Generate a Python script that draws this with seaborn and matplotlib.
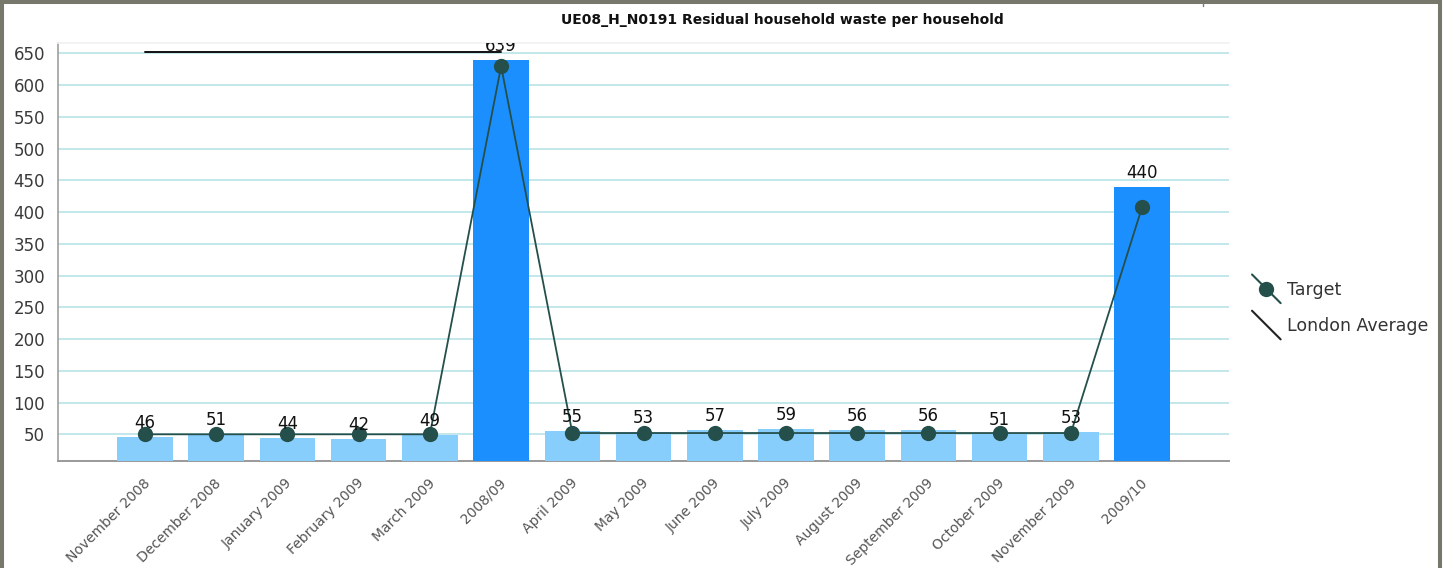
import numpy as np
import pandas as pd
import seaborn as sns
import matplotlib
matplotlib.use("Agg")
import matplotlib.pyplot as plt
from matplotlib.lines import Line2D
from matplotlib.patches import Rectangle
from matplotlib.legend_handler import HandlerBase
from matplotlib.transforms import ScaledTranslation

# ---- data ----
periods = ["November 2008", "December 2008", "January 2009", "February 2009",
           "March 2009", "2008/09", "April 2009", "May 2009", "June 2009",
           "July 2009", "August 2009", "September 2009", "October 2009",
           "November 2009", "2009/10"]
waste = [46, 51, 44, 42, 49, 639, 55, 53, 57, 59, 56, 56, 51, 53, 440]
target = [50, 50, 50, 50, 50, 630, 52, 52, 52, 52, 52, 52, 52, 52, 408]
london_avg = [652, 652, 652, 652, 652, 652, np.nan, np.nan, np.nan, np.nan,
              np.nan, np.nan, np.nan, np.nan, np.nan]
yearly = ["2008/09", "2009/10"]
y_ticks = list(range(50, 651, 50))

df = pd.DataFrame({"period": periods, "waste": waste})

MONTH_COLOR = "#88CEFC"
YEAR_COLOR = "#1C8FFF"
TARGET_COLOR = "#254F4A"
GRID_COLOR = "#B7E3E8"

sns.set_theme(style="white")
plt.rcParams["font.family"] = ["DejaVu Sans"]

W, H = 1444, 568
fig = plt.figure(figsize=(W / 100, H / 100), dpi=100)
ax = fig.add_axes([57.7 / W, 1 - 460.7 / H, (1229 - 57.7) / W, (460.7 - 42.7) / H])

palette = {p: (YEAR_COLOR if p in yearly else MONTH_COLOR) for p in periods}
sns.barplot(data=df, x="period", y="waste", hue="period", palette=palette,
            order=periods, hue_order=periods, width=0.78, saturation=1,
            legend=False, ax=ax, zorder=3, linewidth=0)

xs = np.arange(len(periods))
# London average sits behind the bars
ax.plot(xs, london_avg, color="#111111", lw=1.4, zorder=2)
# Target series with markers
ax.plot(xs, target, color=TARGET_COLOR, lw=1.3, marker="o", markersize=11,
        markeredgewidth=0, zorder=4)

# value labels above bars
for x, v in zip(xs, waste):
    ax.annotate(f"{v}", (x, v), xytext=(0, 6.5), textcoords="offset points",
                ha="center", va="baseline", fontsize=12, color="#111111",
                zorder=5, annotation_clip=False, clip_on=True)

ax.set_xlim(-1.226, 14 + 1.22)
ax.set_ylim(8.4, 667)
ax.set_yticks(y_ticks)
ax.yaxis.grid(True, color=GRID_COLOR, lw=1.2, zorder=0)
ax.set_axisbelow(True)
ax.set_xlabel("")
ax.set_ylabel("")
ax.tick_params(axis="y", length=0, pad=9, labelsize=12, labelcolor="#3a3a3a")
ax.tick_params(axis="x", length=0, pad=11, labelsize=10, labelcolor="#555555")
ax.set_xticks(xs)
ax.set_xticklabels(periods, rotation=45, ha="right", rotation_mode="anchor")
shift = ScaledTranslation(-2 / 100, 0, fig.dpi_scale_trans)
for lab in ax.get_xticklabels():
    lab.set_transform(lab.get_transform() + shift)
ax.spines["right"].set_visible(False)
ax.spines["top"].set_color("#F2F2F2")
ax.spines["left"].set_color("#A0A0A0")
ax.spines["bottom"].set_color("#999999")
ax.spines["left"].set_linewidth(1.2)
ax.spines["bottom"].set_linewidth(1.4)

fig.text(782 / W, 1 - 20 / H, "UE08_H_N0191 Residual household waste per household",
         ha="center", va="center", fontsize=10, fontweight="bold", color="#111111")


class DiagonalHandler(HandlerBase):
    def __init__(self, with_marker=False):
        super().__init__()
        self.with_marker = with_marker

    def create_artists(self, legend, orig_handle, xdescent, ydescent, width,
                       height, fontsize, trans):
        cy = height / 2 - ydescent
        half = width / 2
        line = Line2D([-xdescent, width - xdescent], [cy + half, cy - half],
                      color=orig_handle.get_color(), lw=1.5, transform=trans)
        arts = [line]
        if self.with_marker:
            dot = Line2D([width / 2 - xdescent], [cy], marker="o", markersize=11,
                         markeredgewidth=0, color=orig_handle.get_color(),
                         transform=trans)
            arts.append(dot)
        return arts


h_target = Line2D([], [], color=TARGET_COLOR)
h_london = Line2D([], [], color="#222222")
fig.legend([h_target, h_london], ["Target", "London Average"],
           handler_map={h_target: DiagonalHandler(True), h_london: DiagonalHandler(False)},
           loc="center left", bbox_to_anchor=(1252 / W, 1 - 308 / H),
           frameon=False, fontsize=12.5, labelcolor="#333333",
           handlelength=1.65, handletextpad=0.35, labelspacing=1.05,
           borderpad=0, borderaxespad=0)

# outer frame
frame = Rectangle((1.5 / W, -0.05), (1439.5 - 1.5) / W, 1.05 - 2 / H,
                  transform=fig.transFigure, fill=False, edgecolor="#77776B",
                  lw=2.9, zorder=10)
fig.patches.append(frame)
fig.add_artist(Line2D([1203 / W, 1203 / W], [1 - 4 / H, 1 - 6 / H],
                      transform=fig.transFigure, color="#77776B", lw=1))

fig.savefig("out.png", dpi=100)
